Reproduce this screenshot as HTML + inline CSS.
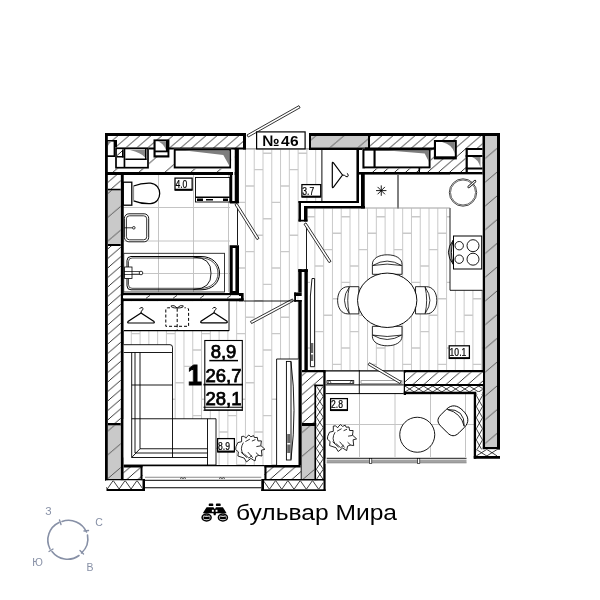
<!DOCTYPE html>
<html><head><meta charset="utf-8"><style>
html,body{margin:0;padding:0;background:#fff;width:600px;height:600px;overflow:hidden}
svg{display:block;font-family:"Liberation Sans",sans-serif;will-change:transform}
</style></head><body>
<svg width="600" height="600" viewBox="0 0 600 600"><defs>
<pattern id="h" patternUnits="userSpaceOnUse" width="11" height="9.5">
<rect width="11" height="9.5" fill="#fff"/><line x1="-1" y1="10.36" x2="12" y2="-0.86" stroke="#000" stroke-width="0.8"/></pattern>
<pattern id="hs" patternUnits="userSpaceOnUse" width="26" height="22.5">
<rect width="26" height="22.5" fill="#fff"/><line x1="-1" y1="23.37" x2="27" y2="-0.87" stroke="#000" stroke-width="0.8"/></pattern>
<pattern id="gh" patternUnits="userSpaceOnUse" width="28" height="23.75">
<rect width="28" height="23.75" fill="#c9c9c9"/><line x1="-1" y1="24.6" x2="29" y2="-0.85" stroke="#333" stroke-width="0.75"/></pattern>
<pattern id="xh" patternUnits="userSpaceOnUse" width="7.5" height="9">
<rect width="7.5" height="9" fill="#fff"/><path d="M0 0 L7.5 9 M7.5 0 L0 9" stroke="#000" stroke-width="0.8"/></pattern>
<clipPath id="pq1">
<rect x="238.75" y="149.5" width="83.25" height="51.5"/>
<rect x="238.75" y="201" width="59.75" height="100"/>
<rect x="123.75" y="301" width="174.25" height="164"/>
</clipPath>
<clipPath id="pq2">
<rect x="307.5" y="208.5" width="142.5" height="161.5"/>
<rect x="450" y="290.3" width="32.5" height="79.7"/>
</clipPath>
</defs><rect width="600" height="600" fill="#fff"/><g clip-path="url(#pq1)" stroke="#c9c9c9" stroke-width="1.0"><line x1="104.96" y1="186.00" x2="113.74" y2="186.00" stroke-width="1.4"/><line x1="104.96" y1="251.60" x2="113.74" y2="251.60" stroke-width="1.4"/><line x1="104.96" y1="317.20" x2="113.74" y2="317.20" stroke-width="1.4"/><line x1="104.96" y1="382.80" x2="113.74" y2="382.80" stroke-width="1.4"/><line x1="104.96" y1="448.40" x2="113.74" y2="448.40" stroke-width="1.4"/><line x1="113.74" y1="169.60" x2="122.52" y2="169.60" stroke-width="1.4"/><line x1="113.74" y1="235.20" x2="122.52" y2="235.20" stroke-width="1.4"/><line x1="113.74" y1="300.80" x2="122.52" y2="300.80" stroke-width="1.4"/><line x1="113.74" y1="366.40" x2="122.52" y2="366.40" stroke-width="1.4"/><line x1="113.74" y1="432.00" x2="122.52" y2="432.00" stroke-width="1.4"/><line x1="122.52" y1="145" x2="122.52" y2="470"/><line x1="122.52" y1="153.20" x2="131.30" y2="153.20" stroke-width="1.4"/><line x1="122.52" y1="218.80" x2="131.30" y2="218.80" stroke-width="1.4"/><line x1="122.52" y1="284.40" x2="131.30" y2="284.40" stroke-width="1.4"/><line x1="122.52" y1="350.00" x2="131.30" y2="350.00" stroke-width="1.4"/><line x1="122.52" y1="415.60" x2="131.30" y2="415.60" stroke-width="1.4"/><line x1="131.30" y1="145" x2="131.30" y2="470"/><line x1="131.30" y1="202.40" x2="140.08" y2="202.40" stroke-width="1.4"/><line x1="131.30" y1="268.00" x2="140.08" y2="268.00" stroke-width="1.4"/><line x1="131.30" y1="333.60" x2="140.08" y2="333.60" stroke-width="1.4"/><line x1="131.30" y1="399.20" x2="140.08" y2="399.20" stroke-width="1.4"/><line x1="131.30" y1="464.80" x2="140.08" y2="464.80" stroke-width="1.4"/><line x1="140.08" y1="145" x2="140.08" y2="470"/><line x1="140.08" y1="186.00" x2="148.86" y2="186.00" stroke-width="1.4"/><line x1="140.08" y1="251.60" x2="148.86" y2="251.60" stroke-width="1.4"/><line x1="140.08" y1="317.20" x2="148.86" y2="317.20" stroke-width="1.4"/><line x1="140.08" y1="382.80" x2="148.86" y2="382.80" stroke-width="1.4"/><line x1="140.08" y1="448.40" x2="148.86" y2="448.40" stroke-width="1.4"/><line x1="148.86" y1="145" x2="148.86" y2="470"/><line x1="148.86" y1="169.60" x2="157.64" y2="169.60" stroke-width="1.4"/><line x1="148.86" y1="235.20" x2="157.64" y2="235.20" stroke-width="1.4"/><line x1="148.86" y1="300.80" x2="157.64" y2="300.80" stroke-width="1.4"/><line x1="148.86" y1="366.40" x2="157.64" y2="366.40" stroke-width="1.4"/><line x1="148.86" y1="432.00" x2="157.64" y2="432.00" stroke-width="1.4"/><line x1="157.64" y1="145" x2="157.64" y2="470"/><line x1="157.64" y1="153.20" x2="166.42" y2="153.20" stroke-width="1.4"/><line x1="157.64" y1="218.80" x2="166.42" y2="218.80" stroke-width="1.4"/><line x1="157.64" y1="284.40" x2="166.42" y2="284.40" stroke-width="1.4"/><line x1="157.64" y1="350.00" x2="166.42" y2="350.00" stroke-width="1.4"/><line x1="157.64" y1="415.60" x2="166.42" y2="415.60" stroke-width="1.4"/><line x1="166.42" y1="145" x2="166.42" y2="470"/><line x1="166.42" y1="202.40" x2="175.20" y2="202.40" stroke-width="1.4"/><line x1="166.42" y1="268.00" x2="175.20" y2="268.00" stroke-width="1.4"/><line x1="166.42" y1="333.60" x2="175.20" y2="333.60" stroke-width="1.4"/><line x1="166.42" y1="399.20" x2="175.20" y2="399.20" stroke-width="1.4"/><line x1="166.42" y1="464.80" x2="175.20" y2="464.80" stroke-width="1.4"/><line x1="175.20" y1="145" x2="175.20" y2="470"/><line x1="175.20" y1="186.00" x2="183.98" y2="186.00" stroke-width="1.4"/><line x1="175.20" y1="251.60" x2="183.98" y2="251.60" stroke-width="1.4"/><line x1="175.20" y1="317.20" x2="183.98" y2="317.20" stroke-width="1.4"/><line x1="175.20" y1="382.80" x2="183.98" y2="382.80" stroke-width="1.4"/><line x1="175.20" y1="448.40" x2="183.98" y2="448.40" stroke-width="1.4"/><line x1="183.98" y1="145" x2="183.98" y2="470"/><line x1="183.98" y1="169.60" x2="192.76" y2="169.60" stroke-width="1.4"/><line x1="183.98" y1="235.20" x2="192.76" y2="235.20" stroke-width="1.4"/><line x1="183.98" y1="300.80" x2="192.76" y2="300.80" stroke-width="1.4"/><line x1="183.98" y1="366.40" x2="192.76" y2="366.40" stroke-width="1.4"/><line x1="183.98" y1="432.00" x2="192.76" y2="432.00" stroke-width="1.4"/><line x1="192.76" y1="145" x2="192.76" y2="470"/><line x1="192.76" y1="153.20" x2="201.54" y2="153.20" stroke-width="1.4"/><line x1="192.76" y1="218.80" x2="201.54" y2="218.80" stroke-width="1.4"/><line x1="192.76" y1="284.40" x2="201.54" y2="284.40" stroke-width="1.4"/><line x1="192.76" y1="350.00" x2="201.54" y2="350.00" stroke-width="1.4"/><line x1="192.76" y1="415.60" x2="201.54" y2="415.60" stroke-width="1.4"/><line x1="201.54" y1="145" x2="201.54" y2="470"/><line x1="201.54" y1="202.40" x2="210.32" y2="202.40" stroke-width="1.4"/><line x1="201.54" y1="268.00" x2="210.32" y2="268.00" stroke-width="1.4"/><line x1="201.54" y1="333.60" x2="210.32" y2="333.60" stroke-width="1.4"/><line x1="201.54" y1="399.20" x2="210.32" y2="399.20" stroke-width="1.4"/><line x1="201.54" y1="464.80" x2="210.32" y2="464.80" stroke-width="1.4"/><line x1="210.32" y1="145" x2="210.32" y2="470"/><line x1="210.32" y1="186.00" x2="219.10" y2="186.00" stroke-width="1.4"/><line x1="210.32" y1="251.60" x2="219.10" y2="251.60" stroke-width="1.4"/><line x1="210.32" y1="317.20" x2="219.10" y2="317.20" stroke-width="1.4"/><line x1="210.32" y1="382.80" x2="219.10" y2="382.80" stroke-width="1.4"/><line x1="210.32" y1="448.40" x2="219.10" y2="448.40" stroke-width="1.4"/><line x1="219.10" y1="145" x2="219.10" y2="470"/><line x1="219.10" y1="169.60" x2="227.88" y2="169.60" stroke-width="1.4"/><line x1="219.10" y1="235.20" x2="227.88" y2="235.20" stroke-width="1.4"/><line x1="219.10" y1="300.80" x2="227.88" y2="300.80" stroke-width="1.4"/><line x1="219.10" y1="366.40" x2="227.88" y2="366.40" stroke-width="1.4"/><line x1="219.10" y1="432.00" x2="227.88" y2="432.00" stroke-width="1.4"/><line x1="227.88" y1="145" x2="227.88" y2="470"/><line x1="227.88" y1="153.20" x2="236.66" y2="153.20" stroke-width="1.4"/><line x1="227.88" y1="218.80" x2="236.66" y2="218.80" stroke-width="1.4"/><line x1="227.88" y1="284.40" x2="236.66" y2="284.40" stroke-width="1.4"/><line x1="227.88" y1="350.00" x2="236.66" y2="350.00" stroke-width="1.4"/><line x1="227.88" y1="415.60" x2="236.66" y2="415.60" stroke-width="1.4"/><line x1="236.66" y1="145" x2="236.66" y2="470"/><line x1="236.66" y1="202.40" x2="245.44" y2="202.40" stroke-width="1.4"/><line x1="236.66" y1="268.00" x2="245.44" y2="268.00" stroke-width="1.4"/><line x1="236.66" y1="333.60" x2="245.44" y2="333.60" stroke-width="1.4"/><line x1="236.66" y1="399.20" x2="245.44" y2="399.20" stroke-width="1.4"/><line x1="236.66" y1="464.80" x2="245.44" y2="464.80" stroke-width="1.4"/><line x1="245.44" y1="145" x2="245.44" y2="470"/><line x1="245.44" y1="186.00" x2="254.22" y2="186.00" stroke-width="1.4"/><line x1="245.44" y1="251.60" x2="254.22" y2="251.60" stroke-width="1.4"/><line x1="245.44" y1="317.20" x2="254.22" y2="317.20" stroke-width="1.4"/><line x1="245.44" y1="382.80" x2="254.22" y2="382.80" stroke-width="1.4"/><line x1="245.44" y1="448.40" x2="254.22" y2="448.40" stroke-width="1.4"/><line x1="254.22" y1="145" x2="254.22" y2="470"/><line x1="254.22" y1="169.60" x2="263.00" y2="169.60" stroke-width="1.4"/><line x1="254.22" y1="235.20" x2="263.00" y2="235.20" stroke-width="1.4"/><line x1="254.22" y1="300.80" x2="263.00" y2="300.80" stroke-width="1.4"/><line x1="254.22" y1="366.40" x2="263.00" y2="366.40" stroke-width="1.4"/><line x1="254.22" y1="432.00" x2="263.00" y2="432.00" stroke-width="1.4"/><line x1="263.00" y1="145" x2="263.00" y2="470"/><line x1="263.00" y1="153.20" x2="271.78" y2="153.20" stroke-width="1.4"/><line x1="263.00" y1="218.80" x2="271.78" y2="218.80" stroke-width="1.4"/><line x1="263.00" y1="284.40" x2="271.78" y2="284.40" stroke-width="1.4"/><line x1="263.00" y1="350.00" x2="271.78" y2="350.00" stroke-width="1.4"/><line x1="263.00" y1="415.60" x2="271.78" y2="415.60" stroke-width="1.4"/><line x1="271.78" y1="145" x2="271.78" y2="470"/><line x1="271.78" y1="202.40" x2="280.56" y2="202.40" stroke-width="1.4"/><line x1="271.78" y1="268.00" x2="280.56" y2="268.00" stroke-width="1.4"/><line x1="271.78" y1="333.60" x2="280.56" y2="333.60" stroke-width="1.4"/><line x1="271.78" y1="399.20" x2="280.56" y2="399.20" stroke-width="1.4"/><line x1="271.78" y1="464.80" x2="280.56" y2="464.80" stroke-width="1.4"/><line x1="280.56" y1="145" x2="280.56" y2="470"/><line x1="280.56" y1="186.00" x2="289.34" y2="186.00" stroke-width="1.4"/><line x1="280.56" y1="251.60" x2="289.34" y2="251.60" stroke-width="1.4"/><line x1="280.56" y1="317.20" x2="289.34" y2="317.20" stroke-width="1.4"/><line x1="280.56" y1="382.80" x2="289.34" y2="382.80" stroke-width="1.4"/><line x1="280.56" y1="448.40" x2="289.34" y2="448.40" stroke-width="1.4"/><line x1="289.34" y1="145" x2="289.34" y2="470"/><line x1="289.34" y1="169.60" x2="298.12" y2="169.60" stroke-width="1.4"/><line x1="289.34" y1="235.20" x2="298.12" y2="235.20" stroke-width="1.4"/><line x1="289.34" y1="300.80" x2="298.12" y2="300.80" stroke-width="1.4"/><line x1="289.34" y1="366.40" x2="298.12" y2="366.40" stroke-width="1.4"/><line x1="289.34" y1="432.00" x2="298.12" y2="432.00" stroke-width="1.4"/><line x1="298.12" y1="145" x2="298.12" y2="470"/><line x1="298.12" y1="153.20" x2="306.90" y2="153.20" stroke-width="1.4"/><line x1="298.12" y1="218.80" x2="306.90" y2="218.80" stroke-width="1.4"/><line x1="298.12" y1="284.40" x2="306.90" y2="284.40" stroke-width="1.4"/><line x1="298.12" y1="350.00" x2="306.90" y2="350.00" stroke-width="1.4"/><line x1="298.12" y1="415.60" x2="306.90" y2="415.60" stroke-width="1.4"/><line x1="306.90" y1="145" x2="306.90" y2="470"/><line x1="306.90" y1="202.40" x2="315.68" y2="202.40" stroke-width="1.4"/><line x1="306.90" y1="268.00" x2="315.68" y2="268.00" stroke-width="1.4"/><line x1="306.90" y1="333.60" x2="315.68" y2="333.60" stroke-width="1.4"/><line x1="306.90" y1="399.20" x2="315.68" y2="399.20" stroke-width="1.4"/><line x1="306.90" y1="464.80" x2="315.68" y2="464.80" stroke-width="1.4"/><line x1="315.68" y1="145" x2="315.68" y2="470"/><line x1="315.68" y1="186.00" x2="324.46" y2="186.00" stroke-width="1.4"/><line x1="315.68" y1="251.60" x2="324.46" y2="251.60" stroke-width="1.4"/><line x1="315.68" y1="317.20" x2="324.46" y2="317.20" stroke-width="1.4"/><line x1="315.68" y1="382.80" x2="324.46" y2="382.80" stroke-width="1.4"/><line x1="315.68" y1="448.40" x2="324.46" y2="448.40" stroke-width="1.4"/><line x1="324.46" y1="169.60" x2="333.24" y2="169.60" stroke-width="1.4"/><line x1="324.46" y1="235.20" x2="333.24" y2="235.20" stroke-width="1.4"/><line x1="324.46" y1="300.80" x2="333.24" y2="300.80" stroke-width="1.4"/><line x1="324.46" y1="366.40" x2="333.24" y2="366.40" stroke-width="1.4"/><line x1="324.46" y1="432.00" x2="333.24" y2="432.00" stroke-width="1.4"/><line x1="333.24" y1="153.20" x2="342.02" y2="153.20" stroke-width="1.4"/><line x1="333.24" y1="218.80" x2="342.02" y2="218.80" stroke-width="1.4"/><line x1="333.24" y1="284.40" x2="342.02" y2="284.40" stroke-width="1.4"/><line x1="333.24" y1="350.00" x2="342.02" y2="350.00" stroke-width="1.4"/><line x1="333.24" y1="415.60" x2="342.02" y2="415.60" stroke-width="1.4"/></g>
<g clip-path="url(#pq2)" stroke="#c9c9c9" stroke-width="1.0"><line x1="288.54" y1="184.00" x2="297.32" y2="184.00" stroke-width="1.4"/><line x1="288.54" y1="249.60" x2="297.32" y2="249.60" stroke-width="1.4"/><line x1="288.54" y1="315.20" x2="297.32" y2="315.20" stroke-width="1.4"/><line x1="288.54" y1="380.80" x2="297.32" y2="380.80" stroke-width="1.4"/><line x1="288.54" y1="446.40" x2="297.32" y2="446.40" stroke-width="1.4"/><line x1="297.32" y1="167.60" x2="306.10" y2="167.60" stroke-width="1.4"/><line x1="297.32" y1="233.20" x2="306.10" y2="233.20" stroke-width="1.4"/><line x1="297.32" y1="298.80" x2="306.10" y2="298.80" stroke-width="1.4"/><line x1="297.32" y1="364.40" x2="306.10" y2="364.40" stroke-width="1.4"/><line x1="297.32" y1="430.00" x2="306.10" y2="430.00" stroke-width="1.4"/><line x1="306.10" y1="145" x2="306.10" y2="470"/><line x1="306.10" y1="151.20" x2="314.88" y2="151.20" stroke-width="1.4"/><line x1="306.10" y1="216.80" x2="314.88" y2="216.80" stroke-width="1.4"/><line x1="306.10" y1="282.40" x2="314.88" y2="282.40" stroke-width="1.4"/><line x1="306.10" y1="348.00" x2="314.88" y2="348.00" stroke-width="1.4"/><line x1="306.10" y1="413.60" x2="314.88" y2="413.60" stroke-width="1.4"/><line x1="314.88" y1="145" x2="314.88" y2="470"/><line x1="314.88" y1="200.40" x2="323.66" y2="200.40" stroke-width="1.4"/><line x1="314.88" y1="266.00" x2="323.66" y2="266.00" stroke-width="1.4"/><line x1="314.88" y1="331.60" x2="323.66" y2="331.60" stroke-width="1.4"/><line x1="314.88" y1="397.20" x2="323.66" y2="397.20" stroke-width="1.4"/><line x1="314.88" y1="462.80" x2="323.66" y2="462.80" stroke-width="1.4"/><line x1="323.66" y1="145" x2="323.66" y2="470"/><line x1="323.66" y1="184.00" x2="332.44" y2="184.00" stroke-width="1.4"/><line x1="323.66" y1="249.60" x2="332.44" y2="249.60" stroke-width="1.4"/><line x1="323.66" y1="315.20" x2="332.44" y2="315.20" stroke-width="1.4"/><line x1="323.66" y1="380.80" x2="332.44" y2="380.80" stroke-width="1.4"/><line x1="323.66" y1="446.40" x2="332.44" y2="446.40" stroke-width="1.4"/><line x1="332.44" y1="145" x2="332.44" y2="470"/><line x1="332.44" y1="167.60" x2="341.22" y2="167.60" stroke-width="1.4"/><line x1="332.44" y1="233.20" x2="341.22" y2="233.20" stroke-width="1.4"/><line x1="332.44" y1="298.80" x2="341.22" y2="298.80" stroke-width="1.4"/><line x1="332.44" y1="364.40" x2="341.22" y2="364.40" stroke-width="1.4"/><line x1="332.44" y1="430.00" x2="341.22" y2="430.00" stroke-width="1.4"/><line x1="341.22" y1="145" x2="341.22" y2="470"/><line x1="341.22" y1="151.20" x2="350.00" y2="151.20" stroke-width="1.4"/><line x1="341.22" y1="216.80" x2="350.00" y2="216.80" stroke-width="1.4"/><line x1="341.22" y1="282.40" x2="350.00" y2="282.40" stroke-width="1.4"/><line x1="341.22" y1="348.00" x2="350.00" y2="348.00" stroke-width="1.4"/><line x1="341.22" y1="413.60" x2="350.00" y2="413.60" stroke-width="1.4"/><line x1="350.00" y1="145" x2="350.00" y2="470"/><line x1="350.00" y1="200.40" x2="358.78" y2="200.40" stroke-width="1.4"/><line x1="350.00" y1="266.00" x2="358.78" y2="266.00" stroke-width="1.4"/><line x1="350.00" y1="331.60" x2="358.78" y2="331.60" stroke-width="1.4"/><line x1="350.00" y1="397.20" x2="358.78" y2="397.20" stroke-width="1.4"/><line x1="350.00" y1="462.80" x2="358.78" y2="462.80" stroke-width="1.4"/><line x1="358.78" y1="145" x2="358.78" y2="470"/><line x1="358.78" y1="184.00" x2="367.56" y2="184.00" stroke-width="1.4"/><line x1="358.78" y1="249.60" x2="367.56" y2="249.60" stroke-width="1.4"/><line x1="358.78" y1="315.20" x2="367.56" y2="315.20" stroke-width="1.4"/><line x1="358.78" y1="380.80" x2="367.56" y2="380.80" stroke-width="1.4"/><line x1="358.78" y1="446.40" x2="367.56" y2="446.40" stroke-width="1.4"/><line x1="367.56" y1="145" x2="367.56" y2="470"/><line x1="367.56" y1="167.60" x2="376.34" y2="167.60" stroke-width="1.4"/><line x1="367.56" y1="233.20" x2="376.34" y2="233.20" stroke-width="1.4"/><line x1="367.56" y1="298.80" x2="376.34" y2="298.80" stroke-width="1.4"/><line x1="367.56" y1="364.40" x2="376.34" y2="364.40" stroke-width="1.4"/><line x1="367.56" y1="430.00" x2="376.34" y2="430.00" stroke-width="1.4"/><line x1="376.34" y1="145" x2="376.34" y2="470"/><line x1="376.34" y1="151.20" x2="385.12" y2="151.20" stroke-width="1.4"/><line x1="376.34" y1="216.80" x2="385.12" y2="216.80" stroke-width="1.4"/><line x1="376.34" y1="282.40" x2="385.12" y2="282.40" stroke-width="1.4"/><line x1="376.34" y1="348.00" x2="385.12" y2="348.00" stroke-width="1.4"/><line x1="376.34" y1="413.60" x2="385.12" y2="413.60" stroke-width="1.4"/><line x1="385.12" y1="145" x2="385.12" y2="470"/><line x1="385.12" y1="200.40" x2="393.90" y2="200.40" stroke-width="1.4"/><line x1="385.12" y1="266.00" x2="393.90" y2="266.00" stroke-width="1.4"/><line x1="385.12" y1="331.60" x2="393.90" y2="331.60" stroke-width="1.4"/><line x1="385.12" y1="397.20" x2="393.90" y2="397.20" stroke-width="1.4"/><line x1="385.12" y1="462.80" x2="393.90" y2="462.80" stroke-width="1.4"/><line x1="393.90" y1="145" x2="393.90" y2="470"/><line x1="393.90" y1="184.00" x2="402.68" y2="184.00" stroke-width="1.4"/><line x1="393.90" y1="249.60" x2="402.68" y2="249.60" stroke-width="1.4"/><line x1="393.90" y1="315.20" x2="402.68" y2="315.20" stroke-width="1.4"/><line x1="393.90" y1="380.80" x2="402.68" y2="380.80" stroke-width="1.4"/><line x1="393.90" y1="446.40" x2="402.68" y2="446.40" stroke-width="1.4"/><line x1="402.68" y1="145" x2="402.68" y2="470"/><line x1="402.68" y1="167.60" x2="411.46" y2="167.60" stroke-width="1.4"/><line x1="402.68" y1="233.20" x2="411.46" y2="233.20" stroke-width="1.4"/><line x1="402.68" y1="298.80" x2="411.46" y2="298.80" stroke-width="1.4"/><line x1="402.68" y1="364.40" x2="411.46" y2="364.40" stroke-width="1.4"/><line x1="402.68" y1="430.00" x2="411.46" y2="430.00" stroke-width="1.4"/><line x1="411.46" y1="145" x2="411.46" y2="470"/><line x1="411.46" y1="151.20" x2="420.24" y2="151.20" stroke-width="1.4"/><line x1="411.46" y1="216.80" x2="420.24" y2="216.80" stroke-width="1.4"/><line x1="411.46" y1="282.40" x2="420.24" y2="282.40" stroke-width="1.4"/><line x1="411.46" y1="348.00" x2="420.24" y2="348.00" stroke-width="1.4"/><line x1="411.46" y1="413.60" x2="420.24" y2="413.60" stroke-width="1.4"/><line x1="420.24" y1="145" x2="420.24" y2="470"/><line x1="420.24" y1="200.40" x2="429.02" y2="200.40" stroke-width="1.4"/><line x1="420.24" y1="266.00" x2="429.02" y2="266.00" stroke-width="1.4"/><line x1="420.24" y1="331.60" x2="429.02" y2="331.60" stroke-width="1.4"/><line x1="420.24" y1="397.20" x2="429.02" y2="397.20" stroke-width="1.4"/><line x1="420.24" y1="462.80" x2="429.02" y2="462.80" stroke-width="1.4"/><line x1="429.02" y1="145" x2="429.02" y2="470"/><line x1="429.02" y1="184.00" x2="437.80" y2="184.00" stroke-width="1.4"/><line x1="429.02" y1="249.60" x2="437.80" y2="249.60" stroke-width="1.4"/><line x1="429.02" y1="315.20" x2="437.80" y2="315.20" stroke-width="1.4"/><line x1="429.02" y1="380.80" x2="437.80" y2="380.80" stroke-width="1.4"/><line x1="429.02" y1="446.40" x2="437.80" y2="446.40" stroke-width="1.4"/><line x1="437.80" y1="145" x2="437.80" y2="470"/><line x1="437.80" y1="167.60" x2="446.58" y2="167.60" stroke-width="1.4"/><line x1="437.80" y1="233.20" x2="446.58" y2="233.20" stroke-width="1.4"/><line x1="437.80" y1="298.80" x2="446.58" y2="298.80" stroke-width="1.4"/><line x1="437.80" y1="364.40" x2="446.58" y2="364.40" stroke-width="1.4"/><line x1="437.80" y1="430.00" x2="446.58" y2="430.00" stroke-width="1.4"/><line x1="446.58" y1="145" x2="446.58" y2="470"/><line x1="446.58" y1="151.20" x2="455.36" y2="151.20" stroke-width="1.4"/><line x1="446.58" y1="216.80" x2="455.36" y2="216.80" stroke-width="1.4"/><line x1="446.58" y1="282.40" x2="455.36" y2="282.40" stroke-width="1.4"/><line x1="446.58" y1="348.00" x2="455.36" y2="348.00" stroke-width="1.4"/><line x1="446.58" y1="413.60" x2="455.36" y2="413.60" stroke-width="1.4"/><line x1="455.36" y1="145" x2="455.36" y2="470"/><line x1="455.36" y1="200.40" x2="464.14" y2="200.40" stroke-width="1.4"/><line x1="455.36" y1="266.00" x2="464.14" y2="266.00" stroke-width="1.4"/><line x1="455.36" y1="331.60" x2="464.14" y2="331.60" stroke-width="1.4"/><line x1="455.36" y1="397.20" x2="464.14" y2="397.20" stroke-width="1.4"/><line x1="455.36" y1="462.80" x2="464.14" y2="462.80" stroke-width="1.4"/><line x1="464.14" y1="145" x2="464.14" y2="470"/><line x1="464.14" y1="184.00" x2="472.92" y2="184.00" stroke-width="1.4"/><line x1="464.14" y1="249.60" x2="472.92" y2="249.60" stroke-width="1.4"/><line x1="464.14" y1="315.20" x2="472.92" y2="315.20" stroke-width="1.4"/><line x1="464.14" y1="380.80" x2="472.92" y2="380.80" stroke-width="1.4"/><line x1="464.14" y1="446.40" x2="472.92" y2="446.40" stroke-width="1.4"/><line x1="472.92" y1="145" x2="472.92" y2="470"/><line x1="472.92" y1="167.60" x2="481.70" y2="167.60" stroke-width="1.4"/><line x1="472.92" y1="233.20" x2="481.70" y2="233.20" stroke-width="1.4"/><line x1="472.92" y1="298.80" x2="481.70" y2="298.80" stroke-width="1.4"/><line x1="472.92" y1="364.40" x2="481.70" y2="364.40" stroke-width="1.4"/><line x1="472.92" y1="430.00" x2="481.70" y2="430.00" stroke-width="1.4"/><line x1="481.70" y1="145" x2="481.70" y2="470"/><line x1="481.70" y1="151.20" x2="490.48" y2="151.20" stroke-width="1.4"/><line x1="481.70" y1="216.80" x2="490.48" y2="216.80" stroke-width="1.4"/><line x1="481.70" y1="282.40" x2="490.48" y2="282.40" stroke-width="1.4"/><line x1="481.70" y1="348.00" x2="490.48" y2="348.00" stroke-width="1.4"/><line x1="481.70" y1="413.60" x2="490.48" y2="413.60" stroke-width="1.4"/><line x1="490.48" y1="200.40" x2="499.26" y2="200.40" stroke-width="1.4"/><line x1="490.48" y1="266.00" x2="499.26" y2="266.00" stroke-width="1.4"/><line x1="490.48" y1="331.60" x2="499.26" y2="331.60" stroke-width="1.4"/><line x1="490.48" y1="397.20" x2="499.26" y2="397.20" stroke-width="1.4"/><line x1="490.48" y1="462.80" x2="499.26" y2="462.80" stroke-width="1.4"/><line x1="499.26" y1="184.00" x2="508.04" y2="184.00" stroke-width="1.4"/><line x1="499.26" y1="249.60" x2="508.04" y2="249.60" stroke-width="1.4"/><line x1="499.26" y1="315.20" x2="508.04" y2="315.20" stroke-width="1.4"/><line x1="499.26" y1="380.80" x2="508.04" y2="380.80" stroke-width="1.4"/><line x1="499.26" y1="446.40" x2="508.04" y2="446.40" stroke-width="1.4"/></g>
<g stroke="#c4c4c4" stroke-width="1"><line x1="158.5" y1="175" x2="158.5" y2="292"/><line x1="193.5" y1="175" x2="193.5" y2="292"/><line x1="228.5" y1="175" x2="228.5" y2="292"/><line x1="123" y1="207.5" x2="230" y2="207.5"/><line x1="123" y1="241" x2="230" y2="241"/><line x1="123" y1="273.5" x2="230" y2="273.5"/></g>
<g stroke="#c4c4c4" stroke-width="1"><line x1="359.5" y1="393" x2="359.5" y2="457"/><line x1="395" y1="393" x2="395" y2="457"/><line x1="430.5" y1="393" x2="430.5" y2="457"/><line x1="465.5" y1="393" x2="465.5" y2="457"/><line x1="325" y1="424.5" x2="474" y2="424.5"/></g>
<rect x="108.00" y="136.00" width="135.00" height="13.50" fill="url(#h)" />
<rect x="108.00" y="149.50" width="126.50" height="22.50" fill="url(#hs)" />
<rect x="105.00" y="133.00" width="141.00" height="3.00" fill="#000" />
<rect x="243.00" y="133.00" width="3.00" height="16.50" fill="#000" />
<rect x="117.00" y="147.50" width="129.00" height="2.00" fill="#000" />
<rect x="105.00" y="140.00" width="12.00" height="17.00" fill="#000" />
<rect x="107.30" y="141.60" width="6.30" height="13.70" fill="#fff" />
<path d="M107.3 141.6 L112 141.6 Q108.5 143.5 107.3 148 Z" fill="#8a8a8a"/>
<rect x="115.00" y="147.50" width="34.00" height="21.00" fill="#fff" />
<rect x="116.00" y="148.40" width="32.00" height="19.30" fill="none" stroke="#000" stroke-width="1.7" />
<rect x="117.00" y="149.50" width="5.00" height="7.50" fill="url(#h)" />
<rect x="122.00" y="149.50" width="1.60" height="8.00" fill="#000" />
<rect x="117.00" y="156.00" width="6.60" height="1.50" fill="#000" />
<rect x="123.60" y="149.00" width="1.70" height="19.00" fill="#000" />
<rect x="125.30" y="158.50" width="21.20" height="1.50" fill="#000" />
<rect x="145.00" y="149.00" width="1.50" height="11.00" fill="#000" />
<path d="M130 150 L145 150 L145 157.5 Q141 152.5 130 150 Z" fill="#8a8a8a"/>
<rect x="153.50" y="139.40" width="15.90" height="18.10" fill="#000" />
<rect x="155.60" y="141.20" width="10.40" height="9.30" fill="#fff" />
<rect x="155.60" y="152.30" width="11.90" height="3.00" fill="#fff" />
<path d="M158 141.2 L166 141.2 L166 150 Q163.5 143.5 158 141.2 Z" fill="#8a8a8a"/>
<rect x="173.75" y="148.75" width="57.50" height="20.00" fill="#fff" />
<rect x="174.70" y="149.70" width="55.60" height="17.80" fill="none" stroke="#000" stroke-width="1.9" />
<path d="M185 150.6 L229.3 150.6 L229.3 165.8 L223.3 155 Z" fill="#7e7e7e"/>
<rect x="105.00" y="172.00" width="128.00" height="3.00" fill="#000" />
<rect x="105.00" y="133.00" width="2.80" height="347.50" fill="#000" />
<rect x="120.60" y="172.00" width="3.15" height="308.50" fill="#000" />
<rect x="108.00" y="175.00" width="12.60" height="13.75" fill="url(#h)" />
<rect x="108.00" y="188.75" width="12.60" height="1.85" fill="#000" />
<rect x="108.00" y="190.60" width="12.60" height="53.40" fill="url(#gh)" />
<rect x="108.00" y="244.00" width="12.60" height="2.00" fill="#000" />
<rect x="108.00" y="246.00" width="12.60" height="177.00" fill="url(#h)" />
<rect x="108.00" y="423.00" width="12.60" height="2.60" fill="#000" />
<rect x="108.00" y="425.60" width="12.60" height="53.40" fill="url(#gh)" />
<rect x="105.00" y="479.00" width="37.50" height="1.50" fill="#000" />
<rect x="123.75" y="465.00" width="18.75" height="14.00" fill="url(#h)" />
<rect x="123.75" y="465.00" width="18.75" height="2.50" fill="#000" />
<rect x="140.50" y="465.00" width="2.00" height="15.50" fill="#000" />
<clipPath id="xc1"><rect x="106" y="480.5" width="36.50" height="8.50"/></clipPath><rect x="106" y="480.5" width="36.50" height="8.50" fill="#fff"/><polyline clip-path="url(#xc1)" points="101.30,480.50 107.25,489.00 113.20,480.50 119.15,489.00 125.10,480.50 131.05,489.00 137.00,480.50 142.95,489.00 148.90,480.50" fill="none" stroke="#000" stroke-width="0.75"/>
<rect x="106.50" y="489.00" width="38.50" height="2.00" fill="#000" />
<rect x="142.50" y="479.00" width="2.50" height="10.00" fill="#000" />
<rect x="229.75" y="172.00" width="2.75" height="31.00" fill="#000" />
<rect x="234.50" y="149.00" width="4.40" height="54.00" fill="#000" />
<rect x="232.50" y="175.00" width="2.00" height="26.00" fill="#fff" />
<rect x="231.25" y="150.00" width="3.25" height="22.00" fill="#fff" />
<rect x="229.75" y="201.00" width="9.00" height="2.50" fill="#000" />
<rect x="229.60" y="245.25" width="9.40" height="47.75" fill="#000" />
<rect x="232.70" y="248.00" width="2.70" height="43.00" fill="#fff" />
<rect x="123.00" y="293.00" width="116.00" height="2.40" fill="#000" />
<rect x="239.00" y="293.00" width="4.60" height="8.25" fill="#000" />
<rect x="123.00" y="298.30" width="120.60" height="2.95" fill="#000" />
<rect x="123.00" y="295.40" width="116.00" height="2.90" fill="#fff" />
<line x1="146.00" y1="298.30" x2="150.00" y2="295.40" stroke="#000" stroke-width="0.7" />
<line x1="173.00" y1="298.30" x2="177.00" y2="295.40" stroke="#000" stroke-width="0.7" />
<line x1="200.00" y1="298.30" x2="204.00" y2="295.40" stroke="#000" stroke-width="0.7" />
<line x1="227.00" y1="298.30" x2="231.00" y2="295.40" stroke="#000" stroke-width="0.7" />
<rect x="239.00" y="296.00" width="2.00" height="2.30" fill="#fff" />
<line x1="237.50" y1="205.00" x2="237.50" y2="245.00" stroke="#000" stroke-width="0.9" />
<rect x="298.50" y="201.00" width="60.50" height="2.00" fill="#000" />
<rect x="298.50" y="201.00" width="2.50" height="20.50" fill="#000" />
<rect x="304.00" y="206.00" width="61.00" height="2.50" fill="#000" />
<rect x="304.00" y="206.00" width="3.50" height="15.50" fill="#000" />
<rect x="298.50" y="219.50" width="9.00" height="2.00" fill="#000" />
<rect x="301.00" y="203.00" width="3.00" height="16.50" fill="#fff" />
<rect x="301.00" y="203.00" width="58.00" height="3.00" fill="#fff" />
<rect x="356.25" y="149.00" width="2.75" height="54.00" fill="#000" />
<rect x="361.00" y="172.00" width="3.75" height="36.50" fill="#000" />
<rect x="362.50" y="149.00" width="2.50" height="19.50" fill="#000" />
<line x1="306.50" y1="224.00" x2="306.50" y2="269.00" stroke="#000" stroke-width="0.9" />
<rect x="298.30" y="269.20" width="9.50" height="2.80" fill="#000" />
<rect x="298.30" y="269.20" width="3.40" height="23.30" fill="#000" />
<rect x="304.40" y="269.20" width="3.40" height="100.80" fill="#000" />
<rect x="294.20" y="292.50" width="7.50" height="3.50" fill="#000" />
<rect x="294.20" y="292.50" width="1.80" height="9.20" fill="#000" />
<rect x="294.20" y="300.00" width="7.50" height="1.70" fill="#000" />
<rect x="298.30" y="300.00" width="3.40" height="180.00" fill="#000" />
<rect x="309.00" y="133.00" width="191.00" height="3.00" fill="#000" />
<rect x="309.00" y="133.00" width="2.00" height="17.00" fill="#000" />
<rect x="311.00" y="136.00" width="57.00" height="11.50" fill="url(#gh)" />
<rect x="368.00" y="133.00" width="2.00" height="17.00" fill="#000" />
<rect x="370.00" y="136.00" width="112.50" height="36.00" fill="url(#h)" />
<rect x="309.00" y="147.50" width="61.00" height="2.50" fill="#000" />
<rect x="362.50" y="148.75" width="68.10" height="19.75" fill="#fff" />
<rect x="363.50" y="149.70" width="66.10" height="17.70" fill="none" stroke="#000" stroke-width="1.9" />
<rect x="373.50" y="149.00" width="2.10" height="19.00" fill="#000" />
<path d="M388 150.6 L429 150.6 L429 162 L424.7 153.5 Z" fill="#7e7e7e"/>
<rect x="418.50" y="167.00" width="1.50" height="5.50" fill="#000" />
<rect x="365.00" y="147.50" width="71.00" height="2.20" fill="#000" />
<rect x="433.90" y="140.00" width="22.90" height="19.40" fill="#000" />
<rect x="436.00" y="142.00" width="18.80" height="14.30" fill="#fff" />
<path d="M442 142 L454.8 142 L454.8 153.5 Q452.5 144.5 442 142 Z" fill="#7e7e7e"/>
<rect x="465.60" y="148.00" width="16.90" height="24.50" fill="#fff" />
<rect x="465.60" y="148.00" width="2.20" height="24.50" fill="#000" />
<rect x="465.60" y="148.00" width="16.90" height="2.00" fill="#000" />
<rect x="465.60" y="155.00" width="16.90" height="2.00" fill="#000" />
<rect x="465.60" y="167.50" width="16.90" height="2.00" fill="#000" />
<path d="M472 157 L480.5 157 L480.5 167.5 Q478 159 472 157 Z" fill="#8a8a8a"/>
<rect x="358.75" y="172.00" width="123.75" height="2.60" fill="#000" />
<rect x="497.00" y="133.00" width="3.00" height="316.40" fill="#000" />
<rect x="482.50" y="133.00" width="2.80" height="316.40" fill="#000" />
<rect x="485.30" y="136.00" width="11.70" height="311.00" fill="url(#gh)" />
<rect x="482.50" y="447.00" width="17.50" height="2.40" fill="#000" />
<rect x="403.75" y="370.00" width="79.25" height="2.50" fill="#000" />
<rect x="403.75" y="370.00" width="2.25" height="25.00" fill="#000" />
<rect x="405.00" y="372.50" width="78.00" height="12.50" fill="url(#h)" />
<rect x="405.00" y="384.00" width="78.00" height="2.20" fill="#000" />
<clipPath id="xc2"><rect x="405" y="386" width="77.50" height="6.00"/></clipPath><rect x="405" y="386" width="77.50" height="6.00" fill="#fff"/><g clip-path="url(#xc2)" stroke="#000" stroke-width="0.75"><path d="M395.80 380.00 L405.00 386.00 M405.00 380.00 L395.80 386.00"/><path d="M395.80 386.00 L405.00 392.00 M405.00 386.00 L395.80 392.00"/><path d="M395.80 392.00 L405.00 398.00 M405.00 392.00 L395.80 398.00"/><path d="M395.80 398.00 L405.00 404.00 M405.00 398.00 L395.80 404.00"/><path d="M395.80 404.00 L405.00 410.00 M405.00 404.00 L395.80 410.00"/><path d="M405.00 380.00 L414.20 386.00 M414.20 380.00 L405.00 386.00"/><path d="M405.00 386.00 L414.20 392.00 M414.20 386.00 L405.00 392.00"/><path d="M405.00 392.00 L414.20 398.00 M414.20 392.00 L405.00 398.00"/><path d="M405.00 398.00 L414.20 404.00 M414.20 398.00 L405.00 404.00"/><path d="M405.00 404.00 L414.20 410.00 M414.20 404.00 L405.00 410.00"/><path d="M414.20 380.00 L423.40 386.00 M423.40 380.00 L414.20 386.00"/><path d="M414.20 386.00 L423.40 392.00 M423.40 386.00 L414.20 392.00"/><path d="M414.20 392.00 L423.40 398.00 M423.40 392.00 L414.20 398.00"/><path d="M414.20 398.00 L423.40 404.00 M423.40 398.00 L414.20 404.00"/><path d="M414.20 404.00 L423.40 410.00 M423.40 404.00 L414.20 410.00"/><path d="M423.40 380.00 L432.60 386.00 M432.60 380.00 L423.40 386.00"/><path d="M423.40 386.00 L432.60 392.00 M432.60 386.00 L423.40 392.00"/><path d="M423.40 392.00 L432.60 398.00 M432.60 392.00 L423.40 398.00"/><path d="M423.40 398.00 L432.60 404.00 M432.60 398.00 L423.40 404.00"/><path d="M423.40 404.00 L432.60 410.00 M432.60 404.00 L423.40 410.00"/><path d="M432.60 380.00 L441.80 386.00 M441.80 380.00 L432.60 386.00"/><path d="M432.60 386.00 L441.80 392.00 M441.80 386.00 L432.60 392.00"/><path d="M432.60 392.00 L441.80 398.00 M441.80 392.00 L432.60 398.00"/><path d="M432.60 398.00 L441.80 404.00 M441.80 398.00 L432.60 404.00"/><path d="M432.60 404.00 L441.80 410.00 M441.80 404.00 L432.60 410.00"/><path d="M441.80 380.00 L451.00 386.00 M451.00 380.00 L441.80 386.00"/><path d="M441.80 386.00 L451.00 392.00 M451.00 386.00 L441.80 392.00"/><path d="M441.80 392.00 L451.00 398.00 M451.00 392.00 L441.80 398.00"/><path d="M441.80 398.00 L451.00 404.00 M451.00 398.00 L441.80 404.00"/><path d="M441.80 404.00 L451.00 410.00 M451.00 404.00 L441.80 410.00"/><path d="M451.00 380.00 L460.20 386.00 M460.20 380.00 L451.00 386.00"/><path d="M451.00 386.00 L460.20 392.00 M460.20 386.00 L451.00 392.00"/><path d="M451.00 392.00 L460.20 398.00 M460.20 392.00 L451.00 398.00"/><path d="M451.00 398.00 L460.20 404.00 M460.20 398.00 L451.00 404.00"/><path d="M451.00 404.00 L460.20 410.00 M460.20 404.00 L451.00 410.00"/><path d="M460.20 380.00 L469.40 386.00 M469.40 380.00 L460.20 386.00"/><path d="M460.20 386.00 L469.40 392.00 M469.40 386.00 L460.20 392.00"/><path d="M460.20 392.00 L469.40 398.00 M469.40 392.00 L460.20 398.00"/><path d="M460.20 398.00 L469.40 404.00 M469.40 398.00 L460.20 404.00"/><path d="M460.20 404.00 L469.40 410.00 M469.40 404.00 L460.20 410.00"/><path d="M469.40 380.00 L478.60 386.00 M478.60 380.00 L469.40 386.00"/><path d="M469.40 386.00 L478.60 392.00 M478.60 386.00 L469.40 392.00"/><path d="M469.40 392.00 L478.60 398.00 M478.60 392.00 L469.40 398.00"/><path d="M469.40 398.00 L478.60 404.00 M478.60 398.00 L469.40 404.00"/><path d="M469.40 404.00 L478.60 410.00 M478.60 404.00 L469.40 410.00"/><path d="M478.60 380.00 L487.80 386.00 M487.80 380.00 L478.60 386.00"/><path d="M478.60 386.00 L487.80 392.00 M487.80 386.00 L478.60 392.00"/><path d="M478.60 392.00 L487.80 398.00 M487.80 392.00 L478.60 398.00"/><path d="M478.60 398.00 L487.80 404.00 M487.80 398.00 L478.60 404.00"/><path d="M478.60 404.00 L487.80 410.00 M487.80 404.00 L478.60 410.00"/><path d="M487.80 380.00 L497.00 386.00 M497.00 380.00 L487.80 386.00"/><path d="M487.80 386.00 L497.00 392.00 M497.00 386.00 L487.80 392.00"/><path d="M487.80 392.00 L497.00 398.00 M497.00 392.00 L487.80 398.00"/><path d="M487.80 398.00 L497.00 404.00 M497.00 398.00 L487.80 404.00"/><path d="M487.80 404.00 L497.00 410.00 M497.00 404.00 L487.80 410.00"/><path d="M497.00 380.00 L506.20 386.00 M506.20 380.00 L497.00 386.00"/><path d="M497.00 386.00 L506.20 392.00 M506.20 386.00 L497.00 392.00"/><path d="M497.00 392.00 L506.20 398.00 M506.20 392.00 L497.00 398.00"/><path d="M497.00 398.00 L506.20 404.00 M506.20 398.00 L497.00 404.00"/><path d="M497.00 404.00 L506.20 410.00 M506.20 404.00 L497.00 410.00"/><path d="M506.20 380.00 L515.40 386.00 M515.40 380.00 L506.20 386.00"/><path d="M506.20 386.00 L515.40 392.00 M515.40 386.00 L506.20 392.00"/><path d="M506.20 392.00 L515.40 398.00 M515.40 392.00 L506.20 398.00"/><path d="M506.20 398.00 L515.40 404.00 M515.40 398.00 L506.20 404.00"/><path d="M506.20 404.00 L515.40 410.00 M515.40 404.00 L506.20 410.00"/></g>
<rect x="403.75" y="391.70" width="72.50" height="2.50" fill="#000" />
<rect x="473.75" y="393.00" width="2.50" height="65.75" fill="#000" />
<clipPath id="xc3"><rect x="476.25" y="394.2" width="6.25" height="61.80"/></clipPath><rect x="476.25" y="394.2" width="6.25" height="61.80" fill="#fff"/><g clip-path="url(#xc3)" stroke="#000" stroke-width="0.75"><path d="M470.00 373.25 L476.25 384.35 M476.25 373.25 L470.00 384.35"/><path d="M470.00 384.35 L476.25 395.45 M476.25 384.35 L470.00 395.45"/><path d="M470.00 395.45 L476.25 406.55 M476.25 395.45 L470.00 406.55"/><path d="M470.00 406.55 L476.25 417.65 M476.25 406.55 L470.00 417.65"/><path d="M470.00 417.65 L476.25 428.75 M476.25 417.65 L470.00 428.75"/><path d="M470.00 428.75 L476.25 439.85 M476.25 428.75 L470.00 439.85"/><path d="M470.00 439.85 L476.25 450.95 M476.25 439.85 L470.00 450.95"/><path d="M470.00 450.95 L476.25 462.05 M476.25 450.95 L470.00 462.05"/><path d="M470.00 462.05 L476.25 473.15 M476.25 462.05 L470.00 473.15"/><path d="M470.00 473.15 L476.25 484.25 M476.25 473.15 L470.00 484.25"/><path d="M476.25 373.25 L482.50 384.35 M482.50 373.25 L476.25 384.35"/><path d="M476.25 384.35 L482.50 395.45 M482.50 384.35 L476.25 395.45"/><path d="M476.25 395.45 L482.50 406.55 M482.50 395.45 L476.25 406.55"/><path d="M476.25 406.55 L482.50 417.65 M482.50 406.55 L476.25 417.65"/><path d="M476.25 417.65 L482.50 428.75 M482.50 417.65 L476.25 428.75"/><path d="M476.25 428.75 L482.50 439.85 M482.50 428.75 L476.25 439.85"/><path d="M476.25 439.85 L482.50 450.95 M482.50 439.85 L476.25 450.95"/><path d="M476.25 450.95 L482.50 462.05 M482.50 450.95 L476.25 462.05"/><path d="M476.25 462.05 L482.50 473.15 M482.50 462.05 L476.25 473.15"/><path d="M476.25 473.15 L482.50 484.25 M482.50 473.15 L476.25 484.25"/><path d="M482.50 373.25 L488.75 384.35 M488.75 373.25 L482.50 384.35"/><path d="M482.50 384.35 L488.75 395.45 M488.75 384.35 L482.50 395.45"/><path d="M482.50 395.45 L488.75 406.55 M488.75 395.45 L482.50 406.55"/><path d="M482.50 406.55 L488.75 417.65 M488.75 406.55 L482.50 417.65"/><path d="M482.50 417.65 L488.75 428.75 M488.75 417.65 L482.50 428.75"/><path d="M482.50 428.75 L488.75 439.85 M488.75 428.75 L482.50 439.85"/><path d="M482.50 439.85 L488.75 450.95 M488.75 439.85 L482.50 450.95"/><path d="M482.50 450.95 L488.75 462.05 M488.75 450.95 L482.50 462.05"/><path d="M482.50 462.05 L488.75 473.15 M488.75 462.05 L482.50 473.15"/><path d="M482.50 473.15 L488.75 484.25 M488.75 473.15 L482.50 484.25"/><path d="M488.75 373.25 L495.00 384.35 M495.00 373.25 L488.75 384.35"/><path d="M488.75 384.35 L495.00 395.45 M495.00 384.35 L488.75 395.45"/><path d="M488.75 395.45 L495.00 406.55 M495.00 395.45 L488.75 406.55"/><path d="M488.75 406.55 L495.00 417.65 M495.00 406.55 L488.75 417.65"/><path d="M488.75 417.65 L495.00 428.75 M495.00 417.65 L488.75 428.75"/><path d="M488.75 428.75 L495.00 439.85 M495.00 428.75 L488.75 439.85"/><path d="M488.75 439.85 L495.00 450.95 M495.00 439.85 L488.75 450.95"/><path d="M488.75 450.95 L495.00 462.05 M495.00 450.95 L488.75 462.05"/><path d="M488.75 462.05 L495.00 473.15 M495.00 462.05 L488.75 473.15"/><path d="M488.75 473.15 L495.00 484.25 M495.00 473.15 L488.75 484.25"/><path d="M495.00 373.25 L501.25 384.35 M501.25 373.25 L495.00 384.35"/><path d="M495.00 384.35 L501.25 395.45 M501.25 384.35 L495.00 395.45"/><path d="M495.00 395.45 L501.25 406.55 M501.25 395.45 L495.00 406.55"/><path d="M495.00 406.55 L501.25 417.65 M501.25 406.55 L495.00 417.65"/><path d="M495.00 417.65 L501.25 428.75 M501.25 417.65 L495.00 428.75"/><path d="M495.00 428.75 L501.25 439.85 M501.25 428.75 L495.00 439.85"/><path d="M495.00 439.85 L501.25 450.95 M501.25 439.85 L495.00 450.95"/><path d="M495.00 450.95 L501.25 462.05 M501.25 450.95 L495.00 462.05"/><path d="M495.00 462.05 L501.25 473.15 M501.25 462.05 L495.00 473.15"/><path d="M495.00 473.15 L501.25 484.25 M501.25 473.15 L495.00 484.25"/></g>
<clipPath id="xc4"><rect x="476.25" y="449.4" width="20.75" height="6.60"/></clipPath><rect x="476.25" y="449.4" width="20.75" height="6.60" fill="#fff"/><g clip-path="url(#xc4)" stroke="#000" stroke-width="0.75"><path d="M465.75 442.80 L476.25 449.40 M476.25 442.80 L465.75 449.40"/><path d="M465.75 449.40 L476.25 456.00 M476.25 449.40 L465.75 456.00"/><path d="M465.75 456.00 L476.25 462.60 M476.25 456.00 L465.75 462.60"/><path d="M465.75 462.60 L476.25 469.20 M476.25 462.60 L465.75 469.20"/><path d="M465.75 469.20 L476.25 475.80 M476.25 469.20 L465.75 475.80"/><path d="M465.75 475.80 L476.25 482.40 M476.25 475.80 L465.75 482.40"/><path d="M476.25 442.80 L486.75 449.40 M486.75 442.80 L476.25 449.40"/><path d="M476.25 449.40 L486.75 456.00 M486.75 449.40 L476.25 456.00"/><path d="M476.25 456.00 L486.75 462.60 M486.75 456.00 L476.25 462.60"/><path d="M476.25 462.60 L486.75 469.20 M486.75 462.60 L476.25 469.20"/><path d="M476.25 469.20 L486.75 475.80 M486.75 469.20 L476.25 475.80"/><path d="M476.25 475.80 L486.75 482.40 M486.75 475.80 L476.25 482.40"/><path d="M486.75 442.80 L497.25 449.40 M497.25 442.80 L486.75 449.40"/><path d="M486.75 449.40 L497.25 456.00 M497.25 449.40 L486.75 456.00"/><path d="M486.75 456.00 L497.25 462.60 M497.25 456.00 L486.75 462.60"/><path d="M486.75 462.60 L497.25 469.20 M497.25 462.60 L486.75 469.20"/><path d="M486.75 469.20 L497.25 475.80 M497.25 469.20 L486.75 475.80"/><path d="M486.75 475.80 L497.25 482.40 M497.25 475.80 L486.75 482.40"/><path d="M497.25 442.80 L507.75 449.40 M507.75 442.80 L497.25 449.40"/><path d="M497.25 449.40 L507.75 456.00 M507.75 449.40 L497.25 456.00"/><path d="M497.25 456.00 L507.75 462.60 M507.75 456.00 L497.25 462.60"/><path d="M497.25 462.60 L507.75 469.20 M507.75 462.60 L497.25 469.20"/><path d="M497.25 469.20 L507.75 475.80 M507.75 469.20 L497.25 475.80"/><path d="M497.25 475.80 L507.75 482.40 M507.75 475.80 L497.25 482.40"/><path d="M507.75 442.80 L518.25 449.40 M518.25 442.80 L507.75 449.40"/><path d="M507.75 449.40 L518.25 456.00 M518.25 449.40 L507.75 456.00"/><path d="M507.75 456.00 L518.25 462.60 M518.25 456.00 L507.75 462.60"/><path d="M507.75 462.60 L518.25 469.20 M518.25 462.60 L507.75 469.20"/><path d="M507.75 469.20 L518.25 475.80 M518.25 469.20 L507.75 475.80"/><path d="M507.75 475.80 L518.25 482.40 M518.25 475.80 L507.75 482.40"/><path d="M518.25 442.80 L528.75 449.40 M528.75 442.80 L518.25 449.40"/><path d="M518.25 449.40 L528.75 456.00 M528.75 449.40 L518.25 456.00"/><path d="M518.25 456.00 L528.75 462.60 M528.75 456.00 L518.25 462.60"/><path d="M518.25 462.60 L528.75 469.20 M528.75 462.60 L518.25 469.20"/><path d="M518.25 469.20 L528.75 475.80 M528.75 469.20 L518.25 475.80"/><path d="M518.25 475.80 L528.75 482.40 M528.75 475.80 L518.25 482.40"/></g>
<rect x="473.75" y="456.00" width="26.25" height="2.75" fill="#000" />
<rect x="302.00" y="370.00" width="23.60" height="2.50" fill="#000" />
<rect x="302.00" y="372.50" width="21.00" height="50.50" fill="url(#h)" />
<rect x="302.00" y="423.00" width="21.00" height="3.00" fill="#000" />
<rect x="302.00" y="426.00" width="12.40" height="53.00" fill="url(#gh)" />
<rect x="314.40" y="384.60" width="1.90" height="95.90" fill="#000" />
<rect x="314.40" y="384.60" width="8.90" height="1.80" fill="#000" />
<clipPath id="xc5"><rect x="316.3" y="386.4" width="7.00" height="94.10"/></clipPath><rect x="316.3" y="386.4" width="7.00" height="94.10" fill="#fff"/><g clip-path="url(#xc5)" stroke="#000" stroke-width="0.75"><path d="M309.30 375.60 L316.30 386.00 M316.30 375.60 L309.30 386.00"/><path d="M309.30 386.00 L316.30 396.40 M316.30 386.00 L309.30 396.40"/><path d="M309.30 396.40 L316.30 406.80 M316.30 396.40 L309.30 406.80"/><path d="M309.30 406.80 L316.30 417.20 M316.30 406.80 L309.30 417.20"/><path d="M309.30 417.20 L316.30 427.60 M316.30 417.20 L309.30 427.60"/><path d="M309.30 427.60 L316.30 438.00 M316.30 427.60 L309.30 438.00"/><path d="M309.30 438.00 L316.30 448.40 M316.30 438.00 L309.30 448.40"/><path d="M309.30 448.40 L316.30 458.80 M316.30 448.40 L309.30 458.80"/><path d="M309.30 458.80 L316.30 469.20 M316.30 458.80 L309.30 469.20"/><path d="M309.30 469.20 L316.30 479.60 M316.30 469.20 L309.30 479.60"/><path d="M309.30 479.60 L316.30 490.00 M316.30 479.60 L309.30 490.00"/><path d="M309.30 490.00 L316.30 500.40 M316.30 490.00 L309.30 500.40"/><path d="M309.30 500.40 L316.30 510.80 M316.30 500.40 L309.30 510.80"/><path d="M309.30 510.80 L316.30 521.20 M316.30 510.80 L309.30 521.20"/><path d="M316.30 375.60 L323.30 386.00 M323.30 375.60 L316.30 386.00"/><path d="M316.30 386.00 L323.30 396.40 M323.30 386.00 L316.30 396.40"/><path d="M316.30 396.40 L323.30 406.80 M323.30 396.40 L316.30 406.80"/><path d="M316.30 406.80 L323.30 417.20 M323.30 406.80 L316.30 417.20"/><path d="M316.30 417.20 L323.30 427.60 M323.30 417.20 L316.30 427.60"/><path d="M316.30 427.60 L323.30 438.00 M323.30 427.60 L316.30 438.00"/><path d="M316.30 438.00 L323.30 448.40 M323.30 438.00 L316.30 448.40"/><path d="M316.30 448.40 L323.30 458.80 M323.30 448.40 L316.30 458.80"/><path d="M316.30 458.80 L323.30 469.20 M323.30 458.80 L316.30 469.20"/><path d="M316.30 469.20 L323.30 479.60 M323.30 469.20 L316.30 479.60"/><path d="M316.30 479.60 L323.30 490.00 M323.30 479.60 L316.30 490.00"/><path d="M316.30 490.00 L323.30 500.40 M323.30 490.00 L316.30 500.40"/><path d="M316.30 500.40 L323.30 510.80 M323.30 500.40 L316.30 510.80"/><path d="M316.30 510.80 L323.30 521.20 M323.30 510.80 L316.30 521.20"/><path d="M323.30 375.60 L330.30 386.00 M330.30 375.60 L323.30 386.00"/><path d="M323.30 386.00 L330.30 396.40 M330.30 386.00 L323.30 396.40"/><path d="M323.30 396.40 L330.30 406.80 M330.30 396.40 L323.30 406.80"/><path d="M323.30 406.80 L330.30 417.20 M330.30 406.80 L323.30 417.20"/><path d="M323.30 417.20 L330.30 427.60 M330.30 417.20 L323.30 427.60"/><path d="M323.30 427.60 L330.30 438.00 M330.30 427.60 L323.30 438.00"/><path d="M323.30 438.00 L330.30 448.40 M330.30 438.00 L323.30 448.40"/><path d="M323.30 448.40 L330.30 458.80 M330.30 448.40 L323.30 458.80"/><path d="M323.30 458.80 L330.30 469.20 M330.30 458.80 L323.30 469.20"/><path d="M323.30 469.20 L330.30 479.60 M330.30 469.20 L323.30 479.60"/><path d="M323.30 479.60 L330.30 490.00 M330.30 479.60 L323.30 490.00"/><path d="M323.30 490.00 L330.30 500.40 M330.30 490.00 L323.30 500.40"/><path d="M323.30 500.40 L330.30 510.80 M330.30 500.40 L323.30 510.80"/><path d="M323.30 510.80 L330.30 521.20 M330.30 510.80 L323.30 521.20"/><path d="M330.30 375.60 L337.30 386.00 M337.30 375.60 L330.30 386.00"/><path d="M330.30 386.00 L337.30 396.40 M337.30 386.00 L330.30 396.40"/><path d="M330.30 396.40 L337.30 406.80 M337.30 396.40 L330.30 406.80"/><path d="M330.30 406.80 L337.30 417.20 M337.30 406.80 L330.30 417.20"/><path d="M330.30 417.20 L337.30 427.60 M337.30 417.20 L330.30 427.60"/><path d="M330.30 427.60 L337.30 438.00 M337.30 427.60 L330.30 438.00"/><path d="M330.30 438.00 L337.30 448.40 M337.30 438.00 L330.30 448.40"/><path d="M330.30 448.40 L337.30 458.80 M337.30 448.40 L330.30 458.80"/><path d="M330.30 458.80 L337.30 469.20 M337.30 458.80 L330.30 469.20"/><path d="M330.30 469.20 L337.30 479.60 M337.30 469.20 L330.30 479.60"/><path d="M330.30 479.60 L337.30 490.00 M337.30 479.60 L330.30 490.00"/><path d="M330.30 490.00 L337.30 500.40 M337.30 490.00 L330.30 500.40"/><path d="M330.30 500.40 L337.30 510.80 M337.30 500.40 L330.30 510.80"/><path d="M330.30 510.80 L337.30 521.20 M337.30 510.80 L330.30 521.20"/><path d="M337.30 375.60 L344.30 386.00 M344.30 375.60 L337.30 386.00"/><path d="M337.30 386.00 L344.30 396.40 M344.30 386.00 L337.30 396.40"/><path d="M337.30 396.40 L344.30 406.80 M344.30 396.40 L337.30 406.80"/><path d="M337.30 406.80 L344.30 417.20 M344.30 406.80 L337.30 417.20"/><path d="M337.30 417.20 L344.30 427.60 M344.30 417.20 L337.30 427.60"/><path d="M337.30 427.60 L344.30 438.00 M344.30 427.60 L337.30 438.00"/><path d="M337.30 438.00 L344.30 448.40 M344.30 438.00 L337.30 448.40"/><path d="M337.30 448.40 L344.30 458.80 M344.30 448.40 L337.30 458.80"/><path d="M337.30 458.80 L344.30 469.20 M344.30 458.80 L337.30 469.20"/><path d="M337.30 469.20 L344.30 479.60 M344.30 469.20 L337.30 479.60"/><path d="M337.30 479.60 L344.30 490.00 M344.30 479.60 L337.30 490.00"/><path d="M337.30 490.00 L344.30 500.40 M344.30 490.00 L337.30 500.40"/><path d="M337.30 500.40 L344.30 510.80 M344.30 500.40 L337.30 510.80"/><path d="M337.30 510.80 L344.30 521.20 M344.30 510.80 L337.30 521.20"/></g>
<rect x="323.30" y="370.00" width="2.30" height="121.00" fill="#000" />
<clipPath id="xc6"><rect x="264" y="480.5" width="59.30" height="8.80"/></clipPath><rect x="264" y="480.5" width="59.30" height="8.80" fill="#fff"/><polyline clip-path="url(#xc6)" points="263.30,480.50 269.45,489.30 275.60,480.50 281.75,489.30 287.90,480.50 294.05,489.30 300.20,480.50 306.35,489.30 312.50,480.50 318.65,489.30 324.80,480.50 330.95,489.30" fill="none" stroke="#000" stroke-width="0.75"/>
<rect x="261.30" y="489.30" width="64.30" height="1.70" fill="#000" />
<rect x="261.30" y="479.00" width="2.70" height="12.00" fill="#000" />
<rect x="264.40" y="465.00" width="36.30" height="14.30" fill="url(#h)" />
<rect x="264.40" y="465.00" width="36.30" height="2.50" fill="#000" />
<rect x="264.40" y="465.00" width="2.10" height="14.30" fill="#000" />
<rect x="264.00" y="479.00" width="61.00" height="1.50" fill="#000" />
<line x1="142.00" y1="465.60" x2="264.40" y2="465.60" stroke="#000" stroke-width="1.1" />
<line x1="145.00" y1="477.30" x2="261.30" y2="477.30" stroke="#8a8a8a" stroke-width="1.1" />
<line x1="145.00" y1="480.30" x2="261.30" y2="480.30" stroke="#000" stroke-width="1" />
<line x1="145.00" y1="487.80" x2="261.30" y2="487.80" stroke="#000" stroke-width="1.1" />
<path d="M180 478.5 q1.5 -1.5 3 0 q1.5 -1.5 3 0" stroke="#000" stroke-width="0.7" fill="none"/>
<path d="M219 478.5 q1.5 -1.5 3 0 q1.5 -1.5 3 0" stroke="#000" stroke-width="0.7" fill="none"/>
<line x1="325.60" y1="370.80" x2="403.75" y2="370.80" stroke="#000" stroke-width="1.3" />
<rect x="327.00" y="380.60" width="26.75" height="2.80" fill="none" stroke="#000" stroke-width="0.8" />
<rect x="361.00" y="380.60" width="41.00" height="2.80" fill="none" stroke="#8a8a8a" stroke-width="0.8" />
<line x1="325.60" y1="384.90" x2="403.75" y2="384.90" stroke="#000" stroke-width="1.0" />
<line x1="325.60" y1="393.60" x2="403.75" y2="393.60" stroke="#000" stroke-width="1.0" />
<line x1="359.30" y1="370.00" x2="359.30" y2="394.00" stroke="#000" stroke-width="0.9" />
<path d="M328 383 l1.5 -3 l1.5 3" stroke="#000" stroke-width="0.6" fill="none" />
<path d="M350 383 l1.5 -3 l1.5 3" stroke="#000" stroke-width="0.6" fill="none" />
<rect x="325.60" y="458.75" width="148.15" height="5.25" fill="#fff" />
<line x1="326.70" y1="458.30" x2="466.50" y2="458.30" stroke="#000" stroke-width="0.9" />
<rect x="326.70" y="459.60" width="139.80" height="3.20" fill="#a3a3a3" />
<line x1="326.70" y1="462.90" x2="466.50" y2="462.90" stroke="#666" stroke-width="0.6" />
<rect x="369.60" y="458.60" width="2.20" height="4.70" fill="#fff" />
<rect x="369.60" y="458.60" width="2.20" height="4.70" fill="none" stroke="#000" stroke-width="0.6" />
<rect x="417.60" y="458.60" width="2.20" height="4.70" fill="#fff" />
<rect x="417.60" y="458.60" width="2.20" height="4.70" fill="none" stroke="#000" stroke-width="0.6" />
<path d="M248.19 137.04 L300.09 107.74 L298.91 105.66 L247.01 134.96 Z" fill="#fff" stroke="#000" stroke-width="0.8"/>
<path d="M234.98 204.64 L256.98 239.64 L259.02 238.36 L237.02 203.36 Z" fill="#fff" stroke="#000" stroke-width="0.8"/>
<path d="M303.99 224.15 L328.99 262.65 L331.01 261.35 L306.01 222.85 Z" fill="#fff" stroke="#000" stroke-width="0.8"/>
<path d="M292.43 298.94 L250.43 321.44 L251.57 323.56 L293.57 301.06 Z" fill="#fff" stroke="#000" stroke-width="0.8"/>
<path d="M368.14 364.78 L399.99 383.53 L401.21 381.47 L369.36 362.72 Z" fill="#fff" stroke="#000" stroke-width="0.8"/>
<line x1="244.00" y1="301.00" x2="293.00" y2="301.00" stroke="#000" stroke-width="0.9" />
<rect x="123.30" y="182.20" width="8.50" height="23.00" fill="#fff" stroke="#000" stroke-width="1.3" />
<path d="M133.6 186 C139 183.8 145 183 150.5 183.2 C156.5 183.8 159.7 188.5 159.7 193.6 C159.7 198.7 156.5 203.2 150.5 203.6 C145 203.8 139 203 133.6 200.8" stroke="#000" stroke-width="1.25" fill="#fff" />
<line x1="133.60" y1="186.00" x2="133.60" y2="200.80" stroke="#777" stroke-width="0.9" />
<rect x="124.4" y="213.8" width="24.3" height="28" rx="4.5" fill="#fff" stroke="#000" stroke-width="0.9"/>
<rect x="126.4" y="215.8" width="20.3" height="24" rx="3" fill="none" stroke="#000" stroke-width="0.8"/>
<line x1="124.50" y1="227.80" x2="132.50" y2="227.80" stroke="#000" stroke-width="0.8" />
<circle cx="133.8" cy="227.8" r="1.3" fill="#fff" stroke="#000" stroke-width="0.8"/>
<rect x="123.75" y="253.30" width="100.75" height="38.70" fill="none" stroke="#222" stroke-width="0.9" />
<path d="M131 256.5 L201 256.5 C212 256.5 219.5 263.5 219.5 273.2 C219.5 283 212 289.8 201 289.8 L131 289.8 Q127 289.8 127 285.8 L127 260.5 Q127 256.5 131 256.5 Z" stroke="#000" stroke-width="1.0" fill="none" />
<path d="M132 258 L201 258 C211 258 218 264.5 218 273.2 C218 282 211 288.3 201 288.3 L132 288.3 Q128.5 288.3 128.5 284.8 L128.5 261.5 Q128.5 258 132 258 Z" stroke="#000" stroke-width="0.7" fill="none" />
<path d="M193.5 257 Q211.5 257.5 211 273.2 Q211.5 289 193.5 289.5" stroke="#000" stroke-width="0.9" fill="none" />
<rect x="124.60" y="267.00" width="7.40" height="11.50" fill="#fff" stroke="#000" stroke-width="0.8" />
<line x1="124.00" y1="271.50" x2="140.00" y2="271.50" stroke="#000" stroke-width="0.7" />
<line x1="124.00" y1="274.50" x2="140.00" y2="274.50" stroke="#000" stroke-width="0.7" />
<circle cx="141" cy="273" r="1.8" fill="#fff" stroke="#000" stroke-width="0.8"/>
<rect x="195.50" y="177.50" width="34.25" height="24.50" fill="#fff" stroke="#000" stroke-width="0.9" />
<rect x="195.50" y="196.50" width="34.25" height="1.50" fill="#000" />
<rect x="197.00" y="198.50" width="6.00" height="2.50" fill="#000" />
<rect x="223.00" y="198.50" width="5.00" height="2.50" fill="#000" />
<rect x="206.00" y="199.00" width="7.00" height="1.50" fill="#000" />
<rect x="123.75" y="301.25" width="105.25" height="29.75" fill="#fff" />
<line x1="123.75" y1="330.60" x2="229.00" y2="330.60" stroke="#000" stroke-width="1.4" />
<line x1="229.00" y1="301.25" x2="229.00" y2="331.00" stroke="#000" stroke-width="0.9" />
<path d="M141 313.0 L128.0 321.5 Q127.0 323.0 129.0 323.0 L153.0 323.0 Q155.0 323.0 154.0 321.5 Z" stroke="#000" stroke-width="1.2" fill="none" />
<path d="M141 313.0 Q141 310.9 142.6 309.8 Q143.8 308.3 142.2 307.6 Q140.2 307.3 139.6 308.9" stroke="#000" stroke-width="1.0" fill="none" />
<path d="M214 312.8 L201.0 321.3 Q200.0 322.8 202.0 322.8 L226.0 322.8 Q228.0 322.8 227.0 321.3 Z" stroke="#000" stroke-width="1.2" fill="none" />
<path d="M214 312.8 Q214 310.7 215.6 309.6 Q216.8 308.1 215.2 307.40000000000003 Q213.2 307.1 212.6 308.7" stroke="#000" stroke-width="1.0" fill="none" />
<path d="M170 307.8 L168 307.8 Q165.8 307.8 165.8 310 L165.8 326.3 L188.6 326.3 L188.6 310 Q188.6 307.8 186.4 307.8 L184.5 307.8" stroke="#000" stroke-width="1" fill="none" stroke-dasharray="3,2"/>
<line x1="177.20" y1="308.50" x2="177.20" y2="331.00" stroke="#000" stroke-width="1" stroke-dasharray="3.2,2"/>
<path d="M177.2 308 Q174 304.5 171.2 305.8 Q170.5 308 177.2 308 Q180.5 304.5 183.2 305.8 Q183.8 308 177.2 308" stroke="#000" stroke-width="0.9" fill="none" />
<line x1="321.90" y1="150.00" x2="321.90" y2="201.00" stroke="#6a6a6a" stroke-width="1.8" />
<rect x="322.80" y="150.00" width="33.45" height="51.00" fill="#fff" />
<path d="M342.5 175 L333.5 162.8 Q332.3 161.5 332.3 163.5 L332.3 186.5 Q332.3 188.5 333.5 187.2 Z" stroke="#000" stroke-width="1.2" fill="none" />
<path d="M342.5 175 Q344.8 175 345.9 176.4 Q347.6 177.6 348.2 175.9 Q348.5 173.9 346.9 173.4" stroke="#000" stroke-width="1.0" fill="none" />
<line x1="376.05" y1="190.60" x2="386.45" y2="190.60" stroke="#000" stroke-width="0.9" />
<line x1="377.57" y1="186.92" x2="384.93" y2="194.28" stroke="#000" stroke-width="0.9" />
<line x1="381.25" y1="185.40" x2="381.25" y2="195.80" stroke="#000" stroke-width="0.9" />
<line x1="384.93" y1="186.92" x2="377.57" y2="194.28" stroke="#000" stroke-width="0.9" />
<line x1="398.00" y1="175.00" x2="398.00" y2="208.50" stroke="#000" stroke-width="1" />
<rect x="450.00" y="174.60" width="32.50" height="115.70" fill="#fff" />
<line x1="450.00" y1="208.00" x2="450.00" y2="290.30" stroke="#000" stroke-width="0.9" />
<line x1="450.00" y1="290.30" x2="482.50" y2="290.30" stroke="#000" stroke-width="0.9" />
<line x1="365.00" y1="208.00" x2="450.00" y2="208.00" stroke="#888" stroke-width="0.8" />
<circle cx="463" cy="192.5" r="13.7" fill="#fff" stroke="#333" stroke-width="0.9"/>
<circle cx="463" cy="192.5" r="12.5" fill="none" stroke="#444" stroke-width="0.8"/>
<line x1="468.75" y1="186.9" x2="475" y2="181.25" stroke="#000" stroke-width="2.6" stroke-linecap="round"/>
<line x1="468.75" y1="186.9" x2="475" y2="181.25" stroke="#fff" stroke-width="1.1" stroke-linecap="round"/>
<rect x="453.50" y="236.00" width="28.20" height="33.00" fill="#fff" stroke="#000" stroke-width="1" />
<circle cx="459.2" cy="245.7" r="4.2" fill="none" stroke="#000" stroke-width="0.9"/>
<circle cx="473" cy="245.7" r="6" fill="none" stroke="#000" stroke-width="0.9"/>
<circle cx="459.2" cy="259.2" r="4.2" fill="none" stroke="#000" stroke-width="0.9"/>
<circle cx="473" cy="259.2" r="6" fill="none" stroke="#000" stroke-width="0.9"/>
<path d="M453.3 240 Q443.5 252.3 453.3 264.5 Q449.5 252.3 453.3 240 Z" stroke="#000" stroke-width="0.9" fill="#9a9a9a" />
<g transform="translate(387.2 300.3) scale(1.09 1)"><g transform="rotate(0)"><path d="M-13.6 -26 L-13.6 -36 C-13.6 -42 -7.5 -45.5 0 -45.5 C7.5 -45.5 13.6 -42 13.6 -36 L13.6 -26 Z" fill="#fff" stroke="#000" stroke-width="0.85" vector-effect="non-scaling-stroke"/><path d="M-13.2 -34.8 Q0 -43.6 13.2 -34.8 Q0 -37.6 -13.2 -34.8 Z" fill="none" stroke="#000" stroke-width="0.8" vector-effect="non-scaling-stroke"/></g><g transform="rotate(90)"><path d="M-13.6 -26 L-13.6 -36 C-13.6 -42 -7.5 -45.5 0 -45.5 C7.5 -45.5 13.6 -42 13.6 -36 L13.6 -26 Z" fill="#fff" stroke="#000" stroke-width="0.85" vector-effect="non-scaling-stroke"/><path d="M-13.2 -34.8 Q0 -43.6 13.2 -34.8 Q0 -37.6 -13.2 -34.8 Z" fill="none" stroke="#000" stroke-width="0.8" vector-effect="non-scaling-stroke"/></g><g transform="rotate(180)"><path d="M-13.6 -26 L-13.6 -36 C-13.6 -42 -7.5 -45.5 0 -45.5 C7.5 -45.5 13.6 -42 13.6 -36 L13.6 -26 Z" fill="#fff" stroke="#000" stroke-width="0.85" vector-effect="non-scaling-stroke"/><path d="M-13.2 -34.8 Q0 -43.6 13.2 -34.8 Q0 -37.6 -13.2 -34.8 Z" fill="none" stroke="#000" stroke-width="0.8" vector-effect="non-scaling-stroke"/></g><g transform="rotate(-90)"><path d="M-13.6 -26 L-13.6 -36 C-13.6 -42 -7.5 -45.5 0 -45.5 C7.5 -45.5 13.6 -42 13.6 -36 L13.6 -26 Z" fill="#fff" stroke="#000" stroke-width="0.85" vector-effect="non-scaling-stroke"/><path d="M-13.2 -34.8 Q0 -43.6 13.2 -34.8 Q0 -37.6 -13.2 -34.8 Z" fill="none" stroke="#000" stroke-width="0.8" vector-effect="non-scaling-stroke"/></g><circle cx="0" cy="0" r="27.2" fill="#fff" stroke="#000" stroke-width="0.95" vector-effect="non-scaling-stroke"/></g>
<rect x="310.00" y="278.00" width="4.60" height="88.70" fill="#fff" />
<line x1="310.40" y1="296.00" x2="312.00" y2="278.50" stroke="#000" stroke-width="0.9" />
<line x1="312.00" y1="278.50" x2="314.60" y2="278.50" stroke="#000" stroke-width="0.9" />
<line x1="314.60" y1="278.50" x2="314.60" y2="366.70" stroke="#000" stroke-width="0.9" />
<line x1="310.40" y1="296.00" x2="310.40" y2="366.70" stroke="#000" stroke-width="0.9" />
<line x1="310.40" y1="366.70" x2="314.60" y2="366.70" stroke="#000" stroke-width="0.9" />
<rect x="311.00" y="343.00" width="2.30" height="18.00" fill="#666" />
<rect x="311.00" y="353.00" width="2.30" height="1.50" fill="#fff" />
<rect x="123.75" y="344.70" width="48.75" height="112.80" fill="#fff" />
<rect x="123.75" y="419.00" width="92.25" height="46.00" fill="#fff" />
<path d="M123.75 344.7 L170 344.7 Q172.5 344.7 172.5 347.2 L172.5 352.5 L123.75 352.5" fill="none" stroke="#000" stroke-width="0.9"/>
<line x1="131.70" y1="352.50" x2="131.70" y2="457.50" stroke="#000" stroke-width="0.9" />
<line x1="135.00" y1="352.50" x2="135.00" y2="453.00" stroke="#000" stroke-width="0.9" />
<line x1="140.00" y1="352.50" x2="140.00" y2="448.75" stroke="#000" stroke-width="0.9" />
<line x1="172.50" y1="352.50" x2="172.50" y2="457.50" stroke="#000" stroke-width="0.9" />
<line x1="131.70" y1="385.00" x2="172.50" y2="385.00" stroke="#000" stroke-width="0.9" />
<line x1="131.70" y1="418.75" x2="216.00" y2="418.75" stroke="#000" stroke-width="0.9" />
<line x1="140.00" y1="448.75" x2="207.50" y2="448.75" stroke="#000" stroke-width="0.9" />
<line x1="135.00" y1="453.00" x2="207.50" y2="453.00" stroke="#000" stroke-width="0.9" />
<line x1="131.70" y1="457.50" x2="207.50" y2="457.50" stroke="#000" stroke-width="0.9" />
<line x1="131.70" y1="457.50" x2="140.00" y2="448.75" stroke="#000" stroke-width="0.9" />
<line x1="207.50" y1="418.75" x2="207.50" y2="465.00" stroke="#000" stroke-width="0.9" />
<line x1="216.00" y1="418.75" x2="216.00" y2="465.00" stroke="#000" stroke-width="0.9" />
<line x1="123.75" y1="465.00" x2="216.00" y2="465.00" stroke="#000" stroke-width="0.9" />
<rect x="276.60" y="359.00" width="21.70" height="106.00" fill="#fff" />
<line x1="276.60" y1="359.00" x2="298.30" y2="359.00" stroke="#000" stroke-width="0.9" />
<line x1="276.60" y1="359.00" x2="276.60" y2="465.00" stroke="#000" stroke-width="0.9" />
<rect x="286.40" y="361.40" width="4.60" height="98.60" fill="#fff" stroke="#000" stroke-width="0.9" />
<path d="M291 362 Q297 410 291 459.5" stroke="#000" stroke-width="0.9" fill="none" />
<rect x="287.20" y="434.00" width="3.00" height="19.00" fill="#666" />
<rect x="287.20" y="443.00" width="3.00" height="1.50" fill="#fff" />
<polygon points="333.30,426.10 335.60,425.80 337.60,427.80 338.80,426.10 340.60,424.60 342.60,426.40 345.20,425.20 346.10,427.20 349.00,427.00 349.60,430.50 353.10,430.50 352.50,435.10 356.60,438.90 353.10,439.80 353.70,445.60 350.20,445.00 347.56,446.20 346.70,450.60 342.60,448.00 338.20,451.50 335.90,447.70 329.60,445.60 330.10,441.50 327.40,439.20 327.70,436.30 329.50,432.20 333.30,431.30" fill="#fff" stroke="#000" stroke-width="0.85" stroke-linejoin="round"/>
<path d="M335.10 432.20 Q331.10 438.70 335.10 443.70 M336.10 443.70 L340.60 447.70 L343.60 445.20 M337.10 431.20 L341.60 428.70 M343.60 430.70 L347.10 429.20 M348.10 436.20 L352.60 435.40 M347.60 442.20 L350.60 445.00 M332.60 441.70 L338.60 447.20 M339.60 441.70 L344.60 447.50" stroke="#000" stroke-width="0.8" fill="none" />
<polygon points="241.60,436.50 243.90,436.20 245.90,438.20 247.10,436.50 248.90,435.00 250.90,436.80 253.50,435.60 254.40,437.60 257.30,437.40 257.90,440.90 261.40,440.90 260.80,445.50 264.90,449.30 261.40,450.20 262.00,456.00 258.50,455.40 255.86,456.60 255.00,461.00 250.90,458.40 246.50,461.90 244.20,458.10 237.90,456.00 238.40,451.90 235.70,449.60 236.00,446.70 237.80,442.60 241.60,441.70" fill="#fff" stroke="#000" stroke-width="0.85" stroke-linejoin="round"/>
<path d="M243.40 442.60 Q239.40 449.10 243.40 454.10 M244.40 454.10 L248.90 458.10 L251.90 455.60 M245.40 441.60 L249.90 439.10 M251.90 441.10 L255.40 439.60 M256.40 446.60 L260.90 445.80 M255.90 452.60 L258.90 455.40 M240.90 452.10 L246.90 457.60 M247.90 452.10 L252.90 457.90" stroke="#000" stroke-width="0.8" fill="none" />
<circle cx="417.25" cy="434.75" r="17.5" fill="#fff" stroke="#000" stroke-width="0.9"/>
<g transform="translate(453.2 420.5) rotate(45) scale(1.16)"><path d="M-11 -2.5 C-11 -9 -7 -12 0 -12 C7 -12 11 -9 11 -2.5 L11 4 C11 9 8.5 11 4 11 L-4 11 C-8.5 11 -11 9 -11 4 Z" fill="#fff" stroke="#000" stroke-width="0.8"/><path d="M-10.2 -3.2 Q0 -14.2 10.2 -3.2 Q0 -9.4 -10.2 -3.2 Z" fill="none" stroke="#000" stroke-width="0.7"/></g>
<rect x="175.00" y="178.10" width="17.15" height="11.90" fill="#fff" stroke="#000" stroke-width="1.25"/>
<line x1="174.90" y1="189.70" x2="192.25" y2="189.70" stroke="#000" stroke-width="1.9" />
<text x="0" y="0" transform="translate(175.40 188.00) scale(0.74 1)" font-size="11.6" font-family="Liberation Sans" fill="#000" stroke="#000" stroke-width="0.25">4.0</text>
<rect x="301.90" y="184.60" width="18.80" height="12.30" fill="#fff" stroke="#000" stroke-width="1.25"/>
<line x1="301.80" y1="196.60" x2="320.80" y2="196.60" stroke="#000" stroke-width="1.9" />
<text x="0" y="0" transform="translate(302.30 194.90) scale(0.74 1)" font-size="11.6" font-family="Liberation Sans" fill="#000" stroke="#000" stroke-width="0.25">3.7</text>
<rect x="449.20" y="345.80" width="20.20" height="12.60" fill="#fff" stroke="#000" stroke-width="1.25"/>
<line x1="449.10" y1="358.10" x2="469.50" y2="358.10" stroke="#000" stroke-width="1.9" />
<text x="0" y="0" transform="translate(449.60 356.40) scale(0.74 1)" font-size="11.6" font-family="Liberation Sans" fill="#000" stroke="#000" stroke-width="0.25">10.1</text>
<rect x="330.60" y="398.60" width="16.80" height="11.80" fill="#fff" stroke="#000" stroke-width="1.25"/>
<line x1="330.50" y1="410.10" x2="347.50" y2="410.10" stroke="#000" stroke-width="1.9" />
<text x="0" y="0" transform="translate(331.00 408.40) scale(0.74 1)" font-size="11.6" font-family="Liberation Sans" fill="#000" stroke="#000" stroke-width="0.25">2.8</text>
<rect x="217.60" y="438.60" width="16.80" height="13.20" fill="#fff" stroke="#000" stroke-width="1.25"/>
<line x1="217.50" y1="451.50" x2="234.50" y2="451.50" stroke="#000" stroke-width="1.9" />
<text x="0" y="0" transform="translate(218.00 449.80) scale(0.74 1)" font-size="11.6" font-family="Liberation Sans" fill="#000" stroke="#000" stroke-width="0.25">8.9</text>
<line x1="246.00" y1="148.90" x2="309.00" y2="148.90" stroke="#555" stroke-width="0.8" />
<rect x="256.6" y="131.9" width="48.5" height="17" fill="#fff" stroke="#000" stroke-width="1.2"/>
<text x="262.3 280.9 290.1" y="145.7" font-size="15.5" font-weight="bold" font-family="Liberation Sans" fill="#000">№46</text>
<rect x="204.8" y="340.5" width="37.5" height="69.5" fill="#fff" stroke="#000" stroke-width="1.1"/>
<text x="223.5" y="358.3" text-anchor="middle" font-size="18.5" font-family="Liberation Sans" fill="#000" stroke="#000" stroke-width="0.75">8,9</text>
<line x1="209.30" y1="360.60" x2="238.00" y2="360.60" stroke="#000" stroke-width="1.5" />
<text x="223.5" y="382.3" text-anchor="middle" font-size="18.5" font-family="Liberation Sans" fill="#000" stroke="#000" stroke-width="0.75">26,7</text>
<line x1="203.50" y1="384.60" x2="243.00" y2="384.60" stroke="#000" stroke-width="1.6" />
<text x="223.5" y="405" text-anchor="middle" font-size="18.5" font-family="Liberation Sans" fill="#000" stroke="#000" stroke-width="0.75">28,1</text>
<line x1="203.50" y1="407.20" x2="243.00" y2="407.20" stroke="#000" stroke-width="1.1" />
<line x1="203.50" y1="410.30" x2="243.00" y2="410.30" stroke="#000" stroke-width="1.1" />
<text x="0" y="0" transform="translate(194.6 385) scale(0.88 1)" text-anchor="middle" font-size="29.5" font-weight="bold" font-family="Liberation Sans" fill="#000" stroke="#000" stroke-width="0.8">1</text>
<g fill="#000"><rect x="208.7" y="503.6" width="4.6" height="2.5" rx="0.9"/><rect x="215.9" y="503.6" width="4.8" height="2.5" rx="0.9"/><path d="M206.6 507.2 L213.6 507.2 L214.3 508.8 L215.2 508.8 L215.9 507.2 L222.9 507.2 L226.6 513.2 L216 513.2 L215.6 515.2 L213.8 515.2 L213.4 513.2 L202.8 513.2 Z"/></g><rect x="211.9" y="509.8" width="1.9" height="2" fill="#fff"/><rect x="215.6" y="509.8" width="1.9" height="2" fill="#fff"/><ellipse cx="206.6" cy="517.5" rx="4.5" ry="3.4" fill="#fff" stroke="#000" stroke-width="1.5"/><ellipse cx="222.9" cy="517.5" rx="4.5" ry="3.4" fill="#fff" stroke="#000" stroke-width="1.5"/><ellipse cx="206.6" cy="518" rx="3.4" ry="1.3" fill="#000"/><ellipse cx="222.9" cy="518" rx="3.4" ry="1.3" fill="#000"/><path d="M203.6 516.2 Q206.6 514.6 209.6 516.2 M219.9 516.2 Q222.9 514.6 225.9 516.2" stroke="#000" stroke-width="0.9" fill="none"/>
<text x="236" y="519.8" font-size="21.5" font-family="Liberation Sans" fill="#000" textLength="161" lengthAdjust="spacingAndGlyphs">бульвар Мира</text>
<g stroke="#8790a6" stroke-width="1.6" fill="none" stroke-linecap="round"><path d="M62 521.5 A19.5 19.5 0 0 1 86.5 532"/><path d="M87.5 535 A19.5 19.5 0 0 1 81.5 553"/><path d="M79 555.5 A19.5 19.5 0 0 1 52 551.5"/><path d="M50 549 A19.5 19.5 0 0 1 59 522.5"/></g>
<g stroke="#8790a6" stroke-width="1.4" stroke-linecap="round"><line x1="59.5" y1="520" x2="61" y2="524.5"/><line x1="84" y1="531" x2="88.5" y2="530.5"/><line x1="80" y1="550.5" x2="83.5" y2="554"/><line x1="49" y1="551.5" x2="53" y2="549"/></g>
<g font-family="Liberation Sans" font-size="10.5" fill="#8790a6" text-anchor="middle"><text x="48.5" y="514.5">З</text><text x="99" y="526.3">С</text><text x="37.5" y="565.5">Ю</text><text x="90" y="571.3">В</text></g></svg>
</body></html>
